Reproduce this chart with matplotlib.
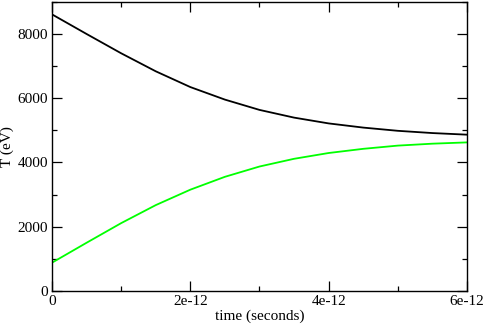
import matplotlib
matplotlib.use("Agg")
import matplotlib.pyplot as plt
from matplotlib.ticker import MultipleLocator

# time in units of 1e-12 s, temperatures in eV
time_ps = [0, 0.5, 1, 1.5, 2, 2.5, 3, 3.5, 4, 4.5, 5, 5.5, 6]
t_hot = [8600, 7990, 7390, 6830, 6340, 5950, 5630, 5390, 5210, 5080, 4980, 4910, 4860]
t_cold = [880, 1500, 2110, 2670, 3150, 3550, 3870, 4110, 4290, 4420, 4520, 4580, 4620]

plt.rcParams["font.family"] = ["Liberation Serif", "DejaVu Serif"]

fig = plt.figure(figsize=(4.85, 3.24), dpi=100)
ax = fig.add_axes([52 / 485, 33 / 324, 415 / 485, 289.5 / 324])

t = [v * 1e-12 for v in time_ps]
ax.plot(t, t_hot, color="black", lw=1.3)
ax.plot(t, t_cold, color="#00ff00", lw=1.3)

ax.set_xlim(0, 6e-12)
ax.set_ylim(0, 9000)
ax.xaxis.set_minor_locator(MultipleLocator(1e-12))
ax.yaxis.set_major_locator(MultipleLocator(2000))
ax.yaxis.set_minor_locator(MultipleLocator(1000))
ax.set_xticks([0, 2e-12, 4e-12, 6e-12])
ax.set_xticklabels(["0", "2e-12", "4e-12", "6e-12"])

ax.tick_params(which="both", direction="in", top=True, right=True,
               labelsize=11, width=0.9)
ax.tick_params(which="major", length=7, pad=3)
ax.tick_params(which="minor", length=3.5)
for s in ax.spines.values():
    s.set_linewidth(1.0)

ax.set_xlabel("time (seconds)", fontsize=11, labelpad=1)
ax.set_ylabel("T (eV)", fontsize=11)
ax.yaxis.set_label_coords(-0.092, 0.5)

fig.savefig("out.png", dpi=100)
